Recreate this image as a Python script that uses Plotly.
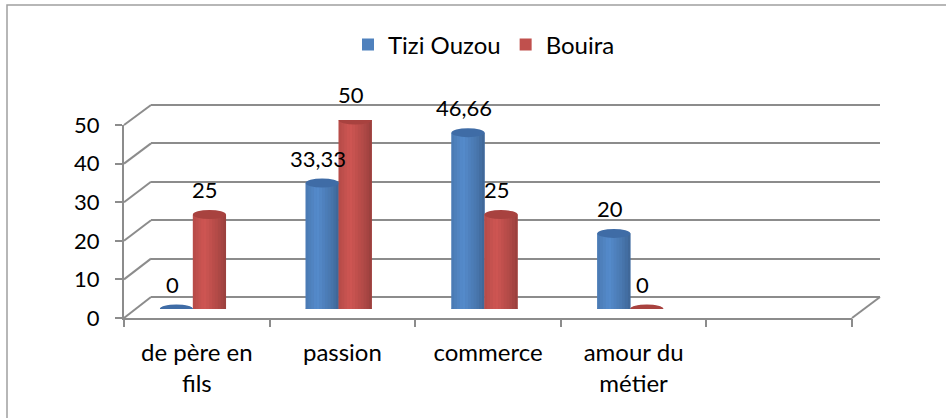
import plotly.graph_objects as go

# ---------------- data ----------------
categories = ["de père en<br>fils", "passion", "commerce", "amour du<br>métier"]
series_names = ["Tizi Ouzou", "Bouira"]
tizi_ouzou = [0, 33.33, 46.66, 20]
bouira = [25, 50, 25, 0]
y_ticks = [0, 10, 20, 30, 40, 50]
n_slots = 5  # four categories plus one empty slot on the right

# ---------------- style / geometry ----------------
W, H = 946, 418
FONT = "Lato, 'Open Sans', sans-serif"
FS_TXT = 24
FS_NUM = 22
GRID = "#8c8c8c"
COLORS = [(79, 129, 189), (192, 80, 77)]
CAP = ["#3f6ca6", "#a8423f"]
YMAX = 50
PAD = 0.8  # range padding so the top gridline is not clipped away

FRONT_X, FRONT_Y = (124, 852), (318, 125)   # pixel y for 0 and YMAX
BACK_X, BACK_Y = (151, 880), (297, 105)
BAR_X, BAR_Y = (120, 849), (309, 120)


def fx(px):
    return px / W


def fy(py):
    return 1 - py / H


def dom_x(p):
    return [fx(p[0]), fx(p[1])]


def dom_y(p, pad=0.0):
    top = p[1] - pad / YMAX * (p[0] - p[1])
    return [fy(p[0]), fy(top)]


def shade(rgb, f):
    return "rgb(%d,%d,%d)" % tuple(max(0, min(255, int(c * f))) for c in rgb)


def fmt(v):
    return str(int(v)) if float(v).is_integer() else ("%.2f" % v).replace(".", ",")


fig = go.Figure()

idx = list(range(len(categories)))
values = [tizi_ouzou, bouira]
bw = 33 / ((BAR_X[1] - BAR_X[0]) / n_slots)  # bar width in slot units
offsets = [-bw, 0.0]

# invisible anchors so every axis pair is drawn
for xa, ya in (("x", "y"), ("x2", "y2"), ("x4", "y2")):
    fig.add_trace(go.Scatter(x=[0], y=[0], xaxis=xa, yaxis=ya, mode="markers",
                             marker=dict(opacity=0), showlegend=False, hoverinfo="skip"))

N = 12
for s, (name, vals) in enumerate(zip(series_names, values)):
    fig.add_trace(go.Bar(x=idx, y=vals, name=name, width=bw, offset=offsets[s],
                         marker=dict(color=shade(COLORS[s], 1.0), line=dict(width=0)),
                         xaxis="x3", yaxis="y3", hoverinfo="skip"))
    for k in range(N):
        t = (k + 0.5) / N
        f = 0.78 + 0.30 * max(0.0, 1 - abs(t - 0.35) / 0.65) ** 0.8
        fig.add_trace(go.Bar(x=idx, y=vals, width=bw / N * 1.05,
                             offset=offsets[s] + k * bw / N,
                             marker=dict(color=shade(COLORS[s], f), line=dict(width=0)),
                             xaxis="x3", yaxis="y3", showlegend=False, hoverinfo="skip"))

shapes = []
annotations = []
for s, vals in enumerate(values):
    for i, v in zip(idx, vals):
        x0 = i + offsets[s]
        x1 = x0 + bw
        shapes.append(dict(type="circle", xref="x3", yref="y3", x0=x0, x1=x1,
                           ysizemode="pixel", yanchor=0, y0=-4, y1=4,
                           fillcolor=shade(COLORS[s], 0.85), line=dict(width=0),
                           layer="below"))
        shapes.append(dict(type="circle", xref="x3", yref="y3", x0=x0, x1=x1,
                           ysizemode="pixel", yanchor=v, y0=-4.5, y1=4.5,
                           fillcolor=CAP[s], line=dict(width=0), layer="above"))
        annotations.append(dict(x=x0 + bw / 2, y=v, xref="x3", yref="y3",
                                text=fmt(v), showarrow=False, yshift=25, xshift=-4,
                                font=dict(family=FONT, size=FS_NUM, color="black")))

# perspective connectors between front axis and back wall
front_h = FRONT_Y[0] - FRONT_Y[1]
back_h = BACK_Y[0] - BACK_Y[1]
for v in y_ticks:
    yf = FRONT_Y[0] - v / YMAX * front_h
    yb = BACK_Y[0] - v / YMAX * back_h
    shapes.append(dict(type="line", xref="paper", yref="paper",
                       x0=fx(FRONT_X[0]), y0=fy(yf), x1=fx(BACK_X[0]), y1=fy(yb),
                       line=dict(color=GRID, width=2)))
shapes.append(dict(type="line", xref="paper", yref="paper",
                   x0=fx(FRONT_X[1]), y0=fy(FRONT_Y[0]), x1=fx(BACK_X[1]), y1=fy(BACK_Y[0]),
                   line=dict(color=GRID, width=2)))
# chart frame
shapes.append(dict(type="rect", xref="paper", yref="paper",
                   x0=fx(7), y0=-0.1, x1=1.1, y1=fy(5),
                   line=dict(color="#a0a0a0", width=1.5), layer="below"))

fig.update_layout(
    width=W, height=H, autosize=False,
    margin=dict(l=0, r=0, t=0, b=0, pad=0, autoexpand=False),
    paper_bgcolor="white", plot_bgcolor="rgba(0,0,0,0)",
    font=dict(family=FONT, size=FS_TXT, color="black"),
    barmode="overlay",
    showlegend=True,
    legend=dict(orientation="h", x=fx(484), xanchor="center", y=fy(45), yanchor="middle",
                font=dict(family=FONT, size=FS_TXT), bgcolor="rgba(0,0,0,0)",
                itemclick=False, itemdoubleclick=False),
    xaxis=dict(domain=dom_x(BACK_X), range=[0, 1], showgrid=False, zeroline=False,
               showticklabels=False, ticks="", anchor="y"),
    yaxis=dict(domain=dom_y(BACK_Y, PAD), range=[0, YMAX + PAD], tickvals=y_ticks,
               showgrid=True, gridcolor=GRID, gridwidth=2, zeroline=True,
               zerolinecolor=GRID, zerolinewidth=2, showticklabels=False, ticks="",
               anchor="x"),
    xaxis2=dict(domain=dom_x(FRONT_X), range=[-0.5, n_slots - 0.5], tickvals=idx,
                ticktext=categories, ticks="", showgrid=False, zeroline=False,
                showline=True, linecolor=GRID, linewidth=2, anchor="y2",
                ticklabelstandoff=12, tickfont=dict(family=FONT, size=FS_TXT)),
    xaxis4=dict(domain=dom_x(FRONT_X), range=[-0.5, n_slots - 0.5],
                tickvals=[i - 0.5 for i in range(n_slots + 1)], showticklabels=False,
                ticks="outside", ticklen=8, tickwidth=2, tickcolor=GRID,
                showgrid=False, zeroline=False, anchor="y2", overlaying="x2"),
    yaxis2=dict(domain=dom_y(FRONT_Y), range=[0, YMAX], tickvals=y_ticks,
                ticks="outside", ticklen=7, tickwidth=2, tickcolor=GRID,
                showgrid=False, zeroline=False, showline=True, linecolor=GRID,
                linewidth=2, anchor="x2", ticklabelstandoff=11,
                tickfont=dict(family=FONT, size=FS_NUM)),
    xaxis3=dict(domain=dom_x(BAR_X), range=[-0.5, n_slots - 0.5], visible=False,
                anchor="y3"),
    yaxis3=dict(domain=dom_y(BAR_Y), range=[0, YMAX], visible=False, anchor="x3"),
    shapes=shapes,
    annotations=annotations,
)

fig.write_html("out.html", config={"responsive": False, "displayModeBar": False},
               post_script="document.body.style.margin='0';document.body.style.overflow='hidden';")
